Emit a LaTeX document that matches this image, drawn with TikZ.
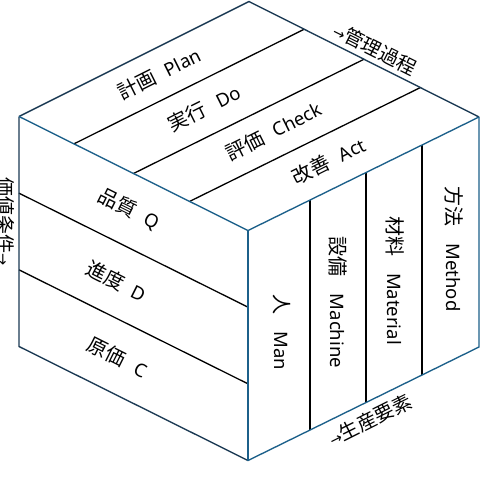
\documentclass[tikz,border=0pt]{standalone}
\usepackage{fontspec}
\setmainfont{Noto Sans}
\newfontfamily\jpf{Noto Sans CJK JP}
\newfontfamily\arrf{DejaVu Sans}
\usetikzlibrary{calc}
\newcommand{\kj}[1]{{\jpf\fontsize{20}{24}\selectfont #1}}
\newcommand{\la}[1]{{\fontsize{18.5}{22}\selectfont #1}}
\newcommand{\lab}[3]{\kj{#1}\hspace{#3}\la{#2}}
\newcommand{\arw}{{\arrf\fontsize{14.5}{17}\selectfont →}}
\definecolor{edgenavy}{RGB}{27,58,84}
\definecolor{edgeteal}{RGB}{28,96,138}
\begin{document}
\begin{tikzpicture}[x=1pt,y=-1pt,
  inner/.style={draw=black,line width=1.3pt},
  outerA/.style={draw=edgenavy,line width=1.35pt,line join=round},
  outerB/.style={draw=edgeteal,line width=1.35pt,line join=round},
  txt/.style={inner sep=0pt,text=black}]
\fill[white] (0,0) rectangle (480,480);
\useasboundingbox (0,0) rectangle (480,480);
% cube vertices
\coordinate (L) at (19,116.5);
\coordinate (T) at (249,1.5);
\coordinate (R) at (479,117);
\coordinate (F) at (248,230.5);
\coordinate (LB) at (19,346.5);
\coordinate (FB) at (248,460.5);
\coordinate (RB) at (479,347);
% top face dividers
\coordinate (a1) at ($(L)!0.24!(F)$);  \coordinate (b1) at ($(T)!0.24!(R)$);
\coordinate (a2) at ($(L)!0.50!(F)$);  \coordinate (b2) at ($(T)!0.50!(R)$);
\coordinate (a3) at ($(L)!0.745!(F)$); \coordinate (b3) at ($(T)!0.745!(R)$);
\draw[inner] (a1) -- (b1);
\draw[inner] (a2) -- (b2);
\draw[inner] (a3) -- (b3);
% left face dividers
\coordinate (h1l) at ($(L)!1/3!(LB)$); \coordinate (h1r) at ($(F)!1/3!(FB)$);
\coordinate (h2l) at ($(L)!2/3!(LB)$); \coordinate (h2r) at ($(F)!2/3!(FB)$);
\draw[inner] (h1l) -- (h1r);
\draw[inner] (h2l) -- (h2r);
% right face dividers
\coordinate (v1t) at ($(F)!0.268!(R)$); \coordinate (v1b) at ($(FB)!0.268!(RB)$);
\coordinate (v2t) at ($(F)!0.511!(R)$); \coordinate (v2b) at ($(FB)!0.511!(RB)$);
\coordinate (v3t) at ($(F)!0.753!(R)$); \coordinate (v3b) at ($(FB)!0.753!(RB)$);
\draw[inner] (v1t) -- (v1b);
\draw[inner] (v2t) -- (v2b);
\draw[inner] (v3t) -- (v3b);
% outer edges
\draw[outerA] (L) -- (T) -- (R);
\draw[outerA] (L) -- (LB) -- (FB);
\draw[outerB] (FB) -- (RB) -- (R);
\draw[outerB] (L) -- (F) -- (R);
\draw[outerB] (F) -- (FB);
% top face labels
\node[txt,rotate=26.565] (t1) at (159,73.5) {\lab{計画}{Plan}{12pt}};
\node[txt,rotate=26.565] (t2) at (204,108) {\lab{実行}{Do}{13pt}};
\node[txt,rotate=26.565] (t3) at (273.5,131) {\lab{評価}{Check}{12pt}};
\node[txt,rotate=26.565] (t4) at (328.5,161) {\lab{改善}{Act}{12pt}};
% left face labels
\node[txt,rotate=-26.565] (l1) at (129,209.5) {\lab{品質}{Q}{12pt}};
\node[txt,rotate=-26.565] (l2) at (116.5,281) {\lab{進度}{D}{11pt}};
\node[txt,rotate=-26.565] (l3) at (117.5,357) {\lab{原価}{C}{13pt}};
% right face labels
\node[txt,rotate=-90] (r1) at (282,332.5) {\lab{人}{Man}{17pt}};
\node[txt,rotate=-90] (r2) at (338,302.5) {\lab{設備}{Machine}{17pt}};
\node[txt,rotate=-90] (r3) at (395,280.5) {\lab{材料}{Material}{17pt}};
\node[txt,rotate=-90] (r4) at (454,249) {\lab{方法}{Method}{17pt}};
% outside labels
\node[txt,rotate=-26.565] (e1) at (375,49) {\arw{\jpf\fontsize{19.5}{23}\selectfont 管理過程}};
\node[txt,rotate=26.565] (e2) at (370,420) {\arw{\jpf\fontsize{19.5}{23}\selectfont 生産要素}};
\node[txt,rotate=-90] (e3) at (5.5,222) {{\jpf\fontsize{19}{23}\selectfont 価値条件}\arw};
\end{tikzpicture}
\end{document}
